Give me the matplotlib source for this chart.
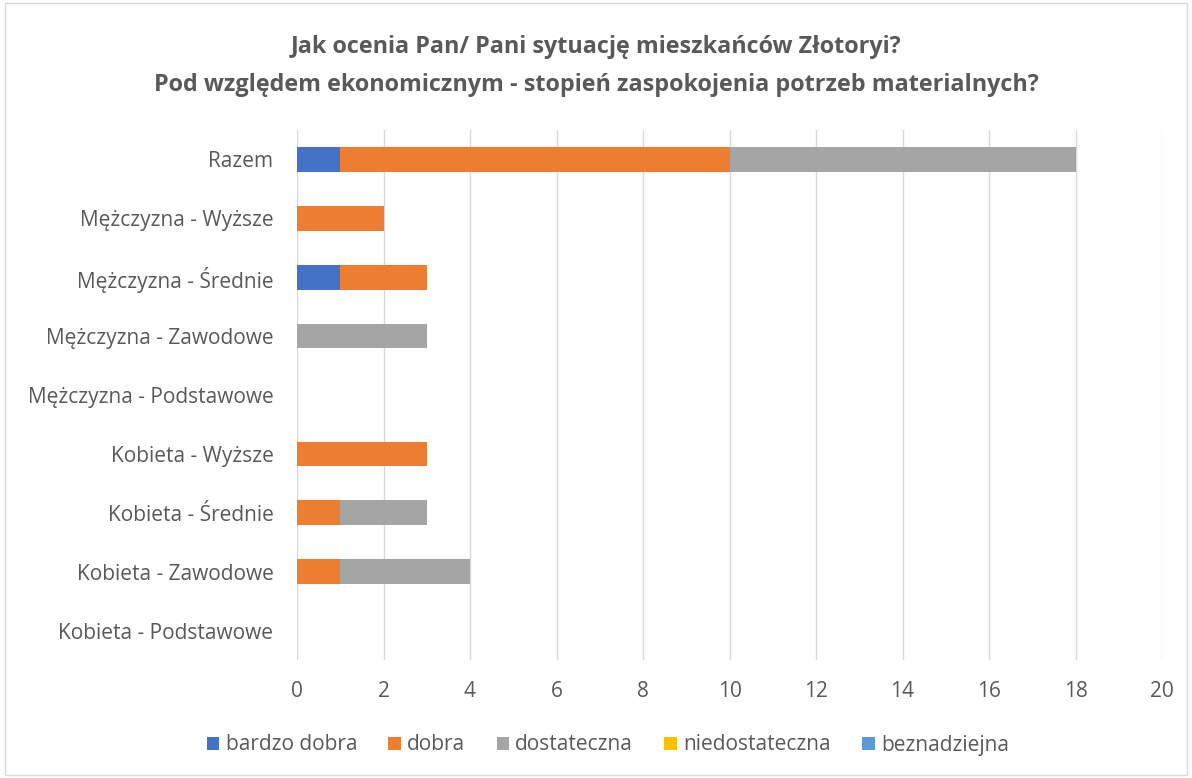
import matplotlib

matplotlib.use("Agg")

import matplotlib.pyplot as plt
import numpy as np
from matplotlib.patches import Rectangle

plt.rcParams["font.family"] = ["Open Sans", "DejaVu Sans"]

categories = [
    "Razem",
    "Mężczyzna - Wyższe",
    "Mężczyzna - Średnie",
    "Mężczyzna - Zawodowe",
    "Mężczyzna - Podstawowe",
    "Kobieta - Wyższe",
    "Kobieta - Średnie",
    "Kobieta - Zawodowe",
    "Kobieta - Podstawowe",
]
series_names = ["bardzo dobra", "dobra", "dostateczna", "niedostateczna", "beznadziejna"]
bardzo_dobra = [1, 0, 1, 0, 0, 0, 0, 0, 0]
dobra = [9, 2, 2, 0, 0, 3, 1, 1, 0]
dostateczna = [8, 0, 0, 3, 0, 0, 2, 3, 0]
niedostateczna = [0, 0, 0, 0, 0, 0, 0, 0, 0]
beznadziejna = [0, 0, 0, 0, 0, 0, 0, 0, 0]
colors = ["#4472C4", "#ED7D31", "#A5A5A5", "#FFC000", "#5B9BD5"]
xticks = list(range(0, 21, 2))

fig = plt.figure(figsize=(11.92, 7.78), dpi=100)
ax = fig.add_axes([297 / 1192, 1 - 660 / 778, 865 / 1192, 530 / 778])

y = np.arange(len(categories))
left = np.zeros(len(categories))
for name, vals, col in zip(
    series_names,
    [bardzo_dobra, dobra, dostateczna, niedostateczna, beznadziejna],
    colors,
):
    ax.barh(y, vals, left=left, height=0.42, color=col, label=name, zorder=3)
    left += np.array(vals)

ax.set_ylim(len(categories) - 0.5, -0.5)
ax.set_xlim(0, 20)
ax.set_xticks(xticks)
ax.set_yticks(y)
ax.set_yticklabels(categories)
ax.tick_params(axis="both", length=0, labelsize=15, colors="#595959")
ax.tick_params(axis="x", pad=15)
ax.tick_params(axis="y", pad=17)
ax.grid(axis="x", color="#d9d9d9", linewidth=1, zorder=0)
for spine in ax.spines.values():
    spine.set_visible(False)

fig.text(
    0.5, 1 - 47 / 778,
    "Jak ocenia Pan/ Pani sytuację mieszkańców Złotoryi?",
    ha="center", va="center", fontsize=16.8, fontweight="bold", color="#595959",
)
fig.text(
    0.5, 1 - 85 / 778,
    "Pod względem ekonomicznym - stopień zaspokojenia potrzeb materialnych?",
    ha="center", va="center", fontsize=16.8, fontweight="bold", color="#595959",
)

leg = fig.legend(
    loc="center", bbox_to_anchor=(0.51, 1 - 745 / 778), ncol=5, frameon=False,
    fontsize=15, handlelength=0.6, handleheight=0.6, columnspacing=1.5,
    handletextpad=0.3,
)
for t in leg.get_texts():
    t.set_color("#595959")

fig.patches.append(
    Rectangle((0.004, 0.004), 0.992, 0.992, transform=fig.transFigure,
              fill=False, edgecolor="#d9d9d9", linewidth=1)
)

fig.savefig("out.png", dpi=100, facecolor="white")
